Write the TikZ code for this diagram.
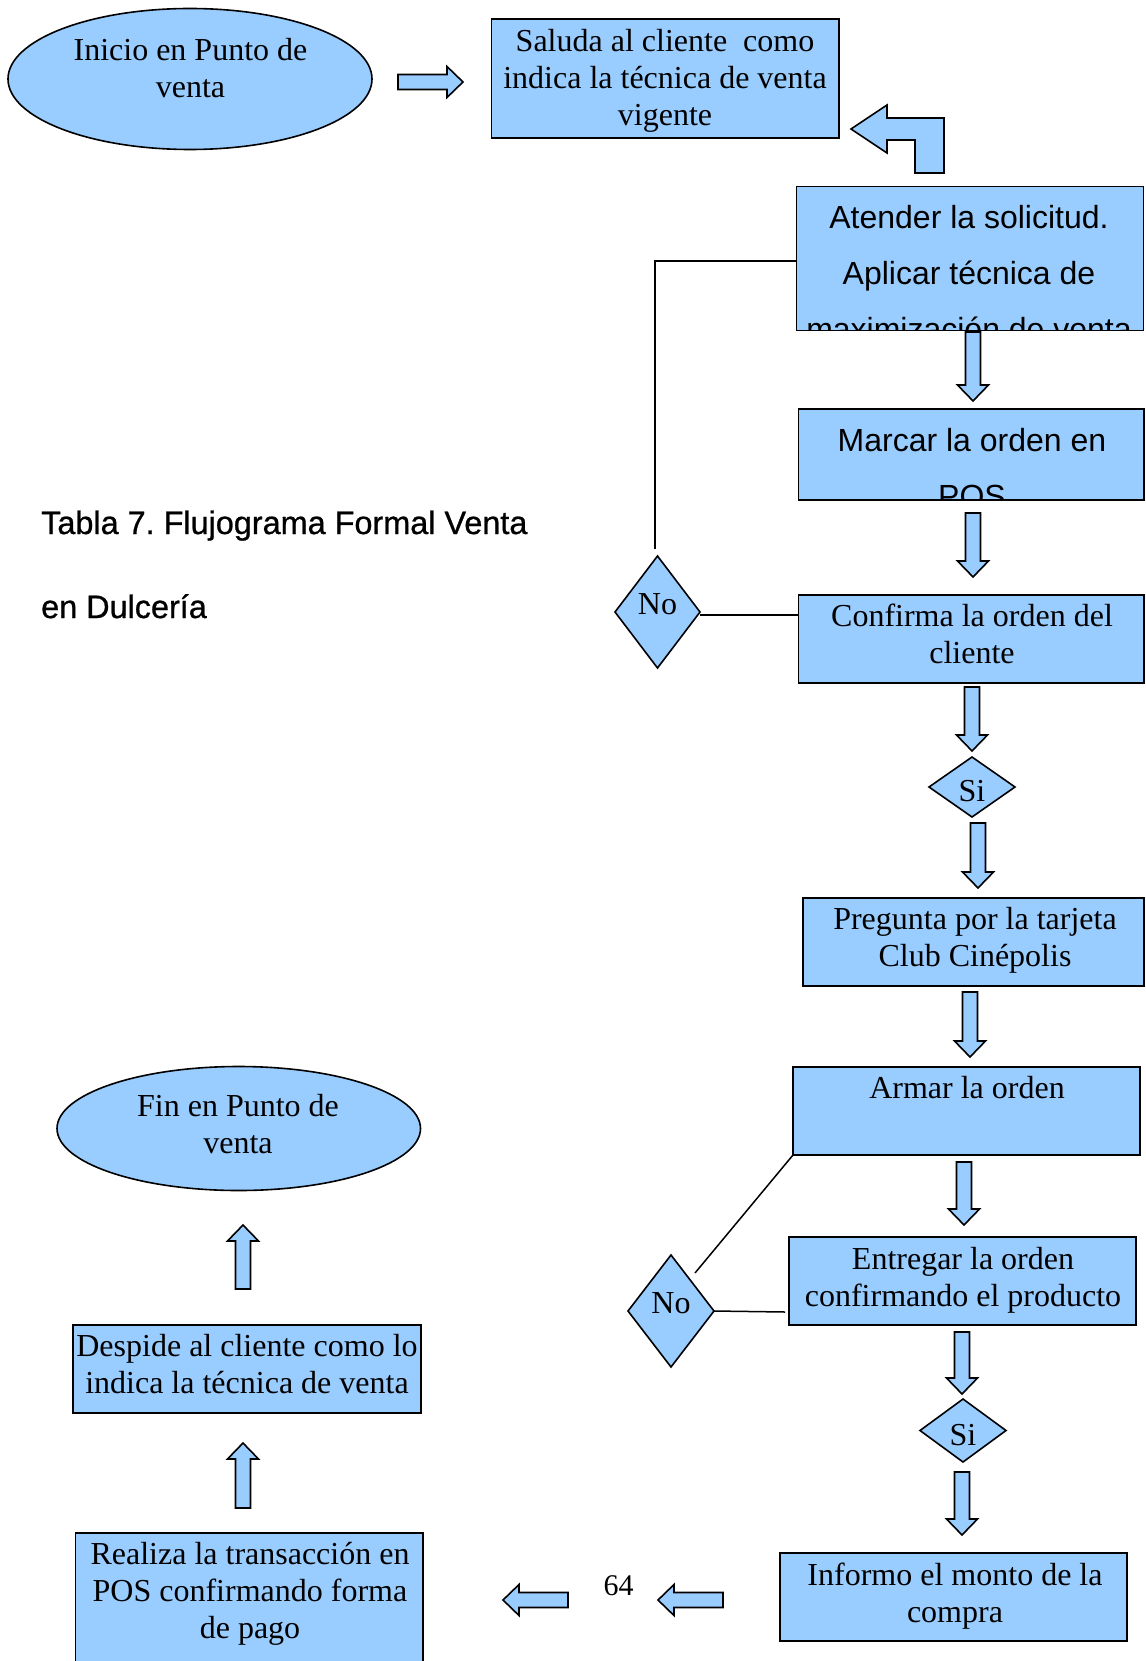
\documentclass[tikz,border=0pt]{standalone}
\usepackage{fontspec}
\setmainfont{Liberation Serif}
\setsansfont{Liberation Sans}
\newfontfamily\captionfont[FakeBold=0.8]{Liberation Sans}
\usetikzlibrary{shapes.geometric}
\definecolor{boxblue}{HTML}{99CCFF}
\frenchspacing
\begin{document}
\begin{tikzpicture}[x=1pt,y=-1pt,
  shapeline/.style={draw=black, line width=1.6pt, fill=boxblue, line join=miter},
  box/.style={shapeline, rectangle, inner sep=0pt, outer sep=0pt},
  oval/.style={shapeline, ellipse, inner sep=0pt, outer sep=0pt},
  decision/.style={shapeline, diamond, inner sep=0pt, outer sep=0pt},
  serif/.style={font=\fontsize{32}{37}\selectfont, align=center, inner sep=0pt},
  sans/.style={font=\sffamily\fontsize{32}{56}\selectfont, align=center, inner sep=0pt},
  answer/.style={font=\fontsize{32}{37}\selectfont, anchor=base, inner sep=0pt},
  link/.style={draw=black, line width=1.5pt},
  pics/blockarrow/.style={code={
    \draw[shapeline] (0,0) -- (15.5,-16) -- (7.5,-16) -- (7.5,-#1)
      -- (-7.5,-#1) -- (-7.5,-16) -- (-15.5,-16) -- cycle;
  }}
]
\useasboundingbox (0,0) rectangle (1145,1661);
\clip (0,0) rectangle (1145,1661);

% ---------- start ----------
\node[oval, minimum width=364, minimum height=141] (inicio) at (190,79) {};
\node[serif] (iniciotxt) at (190.5,72) {\strut Inicio en Punto de\\\strut venta};

\pic[rotate=90] (r1) at (463,82) {blockarrow=65};

\node[box, minimum width=347.5, minimum height=119] (saluda) at (665.25,78.5) {};
\node[serif] (saludatxt) at (665,80.8)
  {\strut Saluda al cliente\ \ como\\\strut indica la técnica de venta\\\strut vigente};

% bent return arrow
\draw[shapeline] (851,129) -- (887,105) -- (887,118) -- (944,118) -- (944,173)
  -- (915,173) -- (915,140) -- (887,140) -- (887,153) -- cycle;

% ---------- right column ----------
\node[box, minimum width=347, minimum height=144] (atender) at (970,258.5) {};
\begin{scope}
  \clip (atender.south west) rectangle (atender.north east);
  \node[sans] (atendertxt) at (969,273.8)
    {\strut Atender la solicitud.\\\strut Aplicar técnica de\\\strut maximización de venta};
\end{scope}
\draw[line width=1.6pt] (atender.south west) rectangle (atender.north east);

\pic (d1) at (973,401) {blockarrow=69};

\node[box, minimum width=345.5, minimum height=91] (marcar) at (971.25,454.5) {};
\begin{scope}
  \clip (marcar.south west) rectangle (marcar.north east);
  \node[sans] (marcartxt) at (972,468.3) {\strut Marcar la orden en\\\strut POS};
\end{scope}
\draw[line width=1.6pt] (marcar.south west) rectangle (marcar.north east);

\pic (d2) at (973,577) {blockarrow=64};

\node[box, minimum width=345.5, minimum height=88] (confirma) at (971.25,639) {};
\node[serif] (confirmatxt) at (972,637.3) {\strut Confirma la orden del\\\strut cliente};

\pic (d3) at (972,751) {blockarrow=64};

\node[decision, minimum width=86, minimum height=60] (si1) at (972,787) {};
\node[answer] (si1txt) at (972,801.5) {Si};

\pic (d4) at (978,888) {blockarrow=65};

\node[box, minimum width=341, minimum height=88] (pregunta) at (973.5,942) {};
\node[serif] (preguntatxt) at (975,940.3) {\strut Pregunta por la tarjeta\\\strut Club Cinépolis};

\pic (d5) at (970,1057) {blockarrow=65};

\node[box, minimum width=347, minimum height=88] (armar) at (966.5,1111) {};
\node[serif] (armartxt) at (967,1090.8) {\strut Armar la orden};

\pic (d6) at (964,1225) {blockarrow=63};

\node[box, minimum width=347, minimum height=88] (entregar) at (962.5,1281) {};
\node[serif] (entregartxt) at (963,1280.4) {\strut Entregar la orden\\\strut confirmando el producto};

\pic (d7) at (962,1394) {blockarrow=62};

\node[decision, minimum width=86, minimum height=63] (si2) at (963,1430.5) {};
\node[answer] (si2txt) at (963,1445) {Si};

\pic (d8) at (962,1535) {blockarrow=63};

\node[box, minimum width=347, minimum height=88] (informo) at (953.5,1597) {};
\node[serif] (informotxt) at (955,1596.3) {\strut Informo el monto de la\\\strut compra};

% ---------- "No" branches ----------
\node[decision, minimum width=85, minimum height=112] (no1) at (657.5,612) {};
\node[answer] (no1txt) at (657.5,614) {No};
\coordinate (bendA) at (655,261);
\coordinate (endA) at (655,549);
\coordinate (levelA) at (700,615);
\draw[link] (atender.west |- bendA) -- (bendA) -- (endA);
\draw[link] (levelA) -- (confirma.west |- levelA);

\node[decision, minimum width=86, minimum height=112] (no2) at (671,1311) {};
\node[answer] (no2txt) at (671,1313) {No};
\coordinate (endB) at (695,1273);
\coordinate (endC) at (785,1312);
\draw[link] (armar.south west) -- (endB);
\draw[link] (no2.east) -- (endC);

% ---------- bottom row and left column ----------
\pic[rotate=-90] (l2) at (658,1600) {blockarrow=65};
\node[font=\fontsize{30}{34}\selectfont, anchor=base, inner sep=0pt] (pagenum) at (618.5,1595) {64};
\pic[rotate=-90] (l1) at (503,1600) {blockarrow=65};

\node[box, minimum width=347.5, minimum height=147] (realiza) at (249.25,1606.5) {};
\node[serif] (realizatxt) at (250,1594)
  {\strut Realiza la transacción en\\\strut POS confirmando forma\\\strut de pago};

\pic[rotate=180] (u2) at (243,1443) {blockarrow=65};

\node[box, minimum width=348, minimum height=88] (despide) at (247,1369) {};
\node[serif] (despidetxt) at (247,1367.3)
  {\strut Despide al cliente como lo\\\strut indica la técnica de venta};

\pic[rotate=180] (u1) at (243,1225) {blockarrow=64};

\node[oval, minimum width=363.5, minimum height=124] (fin) at (238.75,1128.5) {};
\node[serif] (fintxt) at (238,1127.3) {\strut Fin en Punto de\\\strut venta};

% ---------- caption ----------
\node[font=\captionfont\fontsize{32.4}{84}\selectfont, align=left, anchor=west, inner sep=0pt]
  (title) at (41,559.2) {\strut Tabla 7. Flujograma Formal Venta\\\strut en Dulcería};

\end{tikzpicture}
\end{document}
